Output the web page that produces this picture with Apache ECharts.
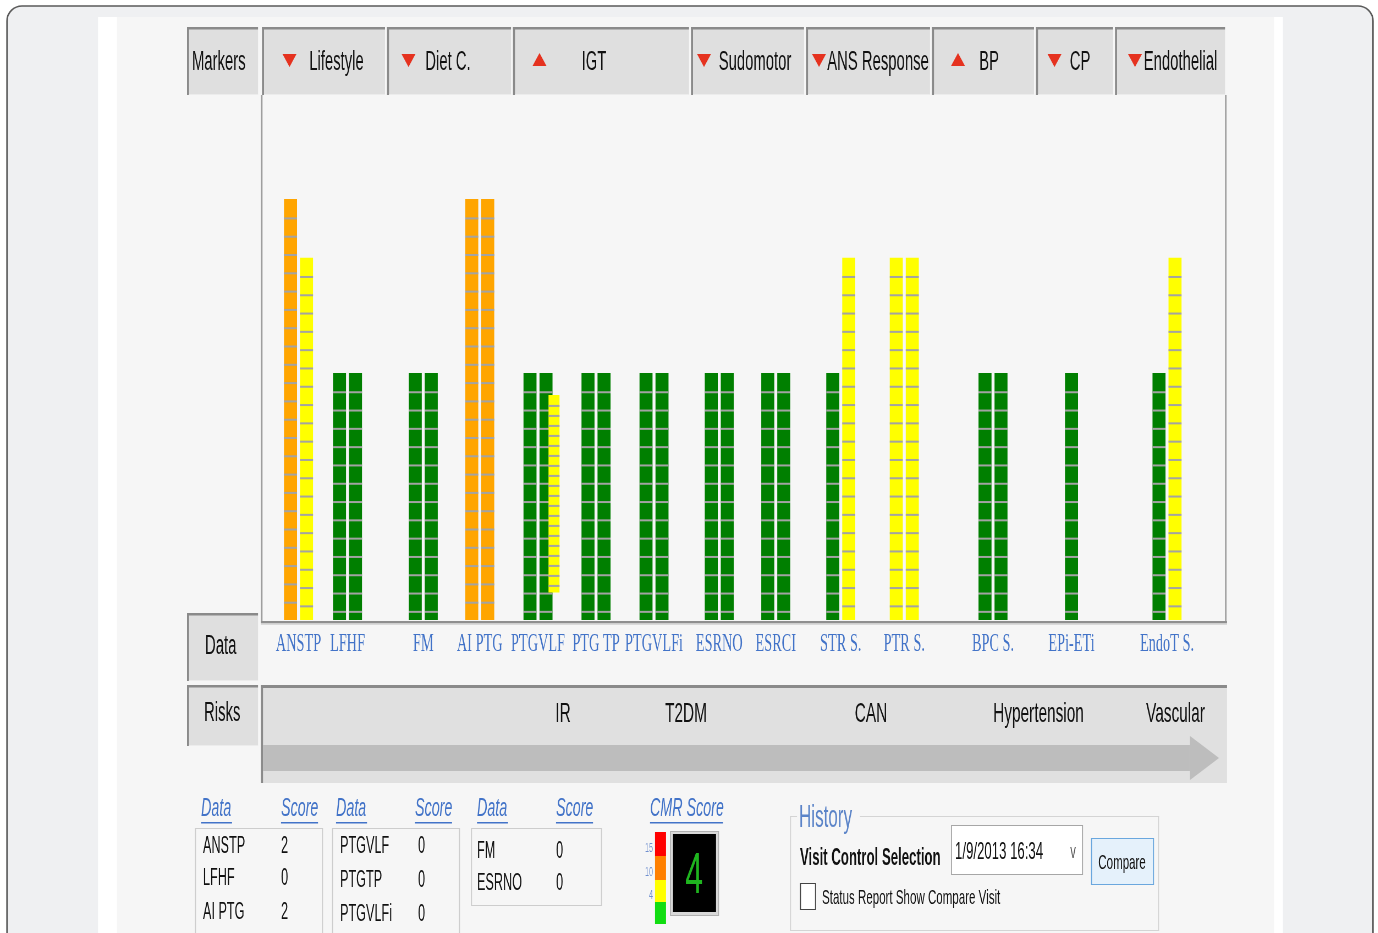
<!DOCTYPE html>
<html>
<head>
<meta charset="utf-8">
<script src="https://cdn.jsdelivr.net/npm/echarts@6/dist/echarts.min.js"></script>
<style>
  html, body { margin: 0; padding: 0; overflow: hidden; background: #fff; }
  #main { height: 933px; transform-origin: 0 0; }
</style>
</head>
<body>
<div id="main"></div>
<script>
// ---- data ----
var groupNames = ['Lifestyle', 'Diet C.', 'IGT', 'Sudomotor', 'ANS Response', 'BP', 'CP', 'Endothelial'];
var groupTrend = ['down', 'down', 'up', 'down', 'down', 'up', 'down', 'down'];

var markers = ['ANSTP', 'LFHF', 'FM', 'AI PTG', 'PTGVLF', 'PTG TP', 'PTGVLFi', 'ESRNO', 'ESRCI', 'STR S.', 'PTR S.', 'BPC S.', 'EPi-ETi', 'EndoT S.'];
var markerGroup = [0, 0, 1, 1, 2, 2, 2, 3, 3, 4, 4, 5, 6, 7];

// bar heights counted in blocks
var firstBar = [23, 13.5, 13.5, 23, 13.5, 13.5, 13.5, 13.5, 13.5, 13.5, 19.8, 13.5, 13.5, 13.5];
var firstLevel = ['high', 'ok', 'ok', 'high', 'ok', 'ok', 'ok', 'ok', 'ok', 'ok', 'mid', 'ok', 'ok', 'ok'];
var secondBar = [19.8, 13.5, 13.5, 23, 13.5, 13.5, 13.5, 13.5, 13.5, 19.8, 19.8, 13.5, null, 19.8];
var secondLevel = ['mid', 'ok', 'ok', 'high', 'ok', 'ok', 'ok', 'ok', 'ok', 'mid', 'mid', 'ok', null, 'mid'];

// the thin floating bar drawn over PTGVLF
var partialMarker = 'PTGVLF';
var partialRange = [1.5, 12.3];
var partialLevel = 'mid';

var risks = ['IR', 'T2DM', 'CAN', 'Hypertension', 'Vascular'];

var namesA = ['ANSTP', 'LFHF', 'AI PTG'];
var scoresA = [2, 0, 2];
var namesB = ['PTGVLF', 'PTGTP', 'PTGVLFi'];
var scoresB = [0, 0, 0];
var namesC = ['FM', 'ESRNO'];
var scoresC = [0, 0];

var cmrScore = 4;
var cmrTicks = [15, 10, 4];
var visitDate = '1/9/2013 16:34';

// ---- layout ----
// the screenshot is squeezed sideways, so the page is drawn wide and squeezed back
var S = 0.55;
var W = Math.round(1378 / S);
function X(x) { return x / S; }

var cellX = [[262, 385], [387, 511], [513, 689], [691, 804], [806, 930], [932, 1034], [1036, 1113], [1115, 1225]];
// how far each column's bar area sits in from its header cell (left, right)
var plotInset = [[12, 13], [8, 3], [-4, 6], [0, 0], [3, -6], [10, -10], [-3, 3], [-3, 3]];
var triX = [289.5, 408.5, 539.5, 704, 819, 958, 1054.5, 1135];
var headTextX = [336.5, 448, 594, 755, 878, 989, 1080, 1180.5];
var riskX = [563, 686, 871, 1038.5, 1175.5];

var PLOT_TOP = 97, BASE = 620, PITCH = 18.3;
var yMax = (BASE - PLOT_TOP) / PITCH;

var levelIndex = { ok: 0, mid: 1, high: 2 };
var levelColor = ['#007f00', '#ffff00', '#ffa500'];
var BLUE = '#4273c8';

var dom = document.getElementById('main');
dom.style.width = W + 'px';
dom.style.transform = 'scaleX(' + S + ')';
var myChart = echarts.init(dom);

// block bar: one coloured column cut by grey lines every block
function segBar(opt) {
    return function (params, api) {
        var cat = api.value(0);
        var lo = api.coord([cat, api.value(2)]);
        var hi = api.coord([cat, api.value(3)]);
        var unit = api.coord([cat, 0])[1] - api.coord([cat, 1])[1];
        var pitch = unit * (opt.pitch || 1);
        var w = X(opt.width);
        var cx = lo[0] + X(opt.offset != null ? opt.offset : api.value(1) * 8);
        var x = cx - w / 2;
        var kids = [{
            type: 'rect',
            shape: { x: x, y: hi[1], width: w, height: lo[1] - hi[1] },
            style: { fill: levelColor[api.value(4)] }
        }];
        for (var y = hi[1] + pitch + 1; y < lo[1] - 3; y += pitch) {
            kids.push({
                type: 'rect',
                shape: { x: x, y: y - 1, width: w, height: 2 },
                style: { fill: '#a3a3a3' }
            });
        }
        return { type: 'group', children: kids };
    };
}

var grids = [], xAxes = [], yAxes = [], series = [];
groupNames.forEach(function (g, gi) {
    var cats = [], data = [];
    markers.forEach(function (m, i) {
        if (markerGroup[i] !== gi) return;
        var k = cats.length;
        cats.push(m);
        var two = secondBar[i] != null;
        data.push([k, two ? -1 : 0, 0, firstBar[i], levelIndex[firstLevel[i]]]);
        if (two) data.push([k, 1, 0, secondBar[i], levelIndex[secondLevel[i]]]);
        if (m === partialMarker) {
            series.push({
                type: 'custom', xAxisIndex: gi, yAxisIndex: gi, z: 3, silent: true,
                encode: { x: 0, y: [2, 3] },
                renderItem: segBar({ width: 11, offset: 16, pitch: 10 / PITCH }),
                data: [[k, 0, partialRange[0], partialRange[1], levelIndex[partialLevel]]]
            });
        }
    });
    var l = cellX[gi][0] + plotInset[gi][0];
    var r = cellX[gi][1] - plotInset[gi][1];
    grids.push({ left: X(l), width: X(r - l), top: PLOT_TOP, height: BASE - PLOT_TOP });
    xAxes.push({
        type: 'category', gridIndex: gi, data: cats,
        axisLine: { show: false }, axisTick: { show: false }, splitLine: { show: false },
        axisLabel: { interval: 0, color: BLUE, fontFamily: 'Liberation Serif', fontSize: 26, margin: 11 }
    });
    yAxes.push({ type: 'value', gridIndex: gi, min: 0, max: yMax, show: false });
    series.push({
        type: 'custom', xAxisIndex: gi, yAxisIndex: gi, z: 2, silent: true,
        encode: { x: 0, y: [2, 3] },
        renderItem: segBar({ width: 13 }),
        data: data
    });
});

// ---- window chrome, all in screenshot pixels ----
function box(x, y, w, h, fill) {
    return { type: 'rect', shape: { x: x, y: y, width: w, height: h }, style: { fill: fill } };
}
function frame(x, y, w, h, stroke, fill) {
    return { type: 'rect', shape: { x: x + 0.5, y: y + 0.5, width: w, height: h }, style: { fill: fill || 'none', stroke: stroke, lineWidth: 1 } };
}
function txt(x, y, s, size, opt) {
    opt = opt || {};
    var al = opt.align || 'left';
    return {
        type: 'text', x: x, y: y, scaleX: S,
        style: {
            text: String(s), fontSize: size, fontFamily: opt.family || 'Liberation Sans',
            fontWeight: opt.bold ? 'bold' : 'normal', fontStyle: opt.italic ? 'italic' : 'normal',
            fill: opt.color || '#111', align: al, textAlign: al,
            verticalAlign: 'middle', textVerticalAlign: 'middle'
        }
    };
}
function cell(x0, y0, x1, y1) {
    return [
        box(x0, y0, x1 - x0, y1 - y0, '#dfdfdf'),
        box(x0, y0, x1 - x0, 2.5, '#8a8a8a'),
        box(x0, y0, 2, y1 - y0, '#8a8a8a'),
        box(x0 + 2, y1 - 1, x1 - x0 - 2, 1, '#ececec')
    ];
}
function link(x, y, s, w) {
    return [txt(x, y, s, 26, { italic: true, color: BLUE }), box(x, y + 13, w, 1.5, BLUE)];
}

var els = [];
els.push({ type: 'rect', shape: { x: 7, y: 6, width: 1366, height: 960, r: 15 }, style: { fill: '#eff0f2', stroke: '#5a5a5a', lineWidth: 1.5 } });
els.push(box(98, 17, 1185, 930, '#ffffff'));
els.push(box(117, 17, 1157, 930, '#f6f6f6'));

// header row
els = els.concat(cell(187, 27, 258, 95));
els.push(txt(192, 63, 'Markers', 27));
groupNames.forEach(function (g, gi) {
    els = els.concat(cell(cellX[gi][0], 27, cellX[gi][1], 95));
    var t = triX[gi];
    var pts = groupTrend[gi] === 'up'
        ? [[t - 7, 66], [t + 7, 66], [t, 53]]
        : [[t - 7, 54], [t + 7, 54], [t, 67]];
    els.push({ type: 'polygon', shape: { points: pts }, style: { fill: '#e5321f' } });
    els.push(txt(headTextX[gi], 63, g, 27, { align: 'center' }));
});

// plot frame
els.push(box(261, 95, 1.5, 528, '#9c9c9c'));
els.push(box(1225, 95, 1.5, 528, '#9c9c9c'));
els.push(box(261, 621, 966, 2.5, '#8f8f8f'));
els.push(box(261, 623.5, 966, 1.5, '#dadada'));

// data / risks row
els = els.concat(cell(187, 613, 258, 681));
els.push(txt(205, 647, 'Data', 27));
els = els.concat(cell(187, 685, 258, 746));
els.push(txt(204, 714, 'Risks', 27));
els.push(box(261, 685, 966, 98, '#e0e0e0'));
els.push(box(261, 685, 966, 3, '#8a8a8a'));
els.push(box(261, 685, 2, 98, '#8a8a8a'));
els.push(box(263, 745, 927, 26, '#bdbdbd'));
els.push({ type: 'polygon', shape: { points: [[1190, 736], [1219, 758], [1190, 780]] }, style: { fill: '#bdbdbd' } });
risks.forEach(function (r, i) { els.push(txt(riskX[i], 714, r, 28, { align: 'center' })); });

// score tables
function table(x0, x1, bottom, nameX, scoreX, rowY, names, scores) {
    var out = [frame(x0, 828, x1 - x0, bottom - 828, '#cdcdcd')];
    names.forEach(function (n, i) {
        out.push(txt(nameX, rowY[i], n, 23));
        out.push(txt(scoreX, rowY[i], scores[i], 23));
    });
    return out;
}
els = els.concat(link(201, 809, 'Data', 31), link(281, 809, 'Score', 37));
els = els.concat(link(336, 809, 'Data', 31), link(415, 809, 'Score', 37));
els = els.concat(link(477, 809, 'Data', 31), link(556, 809, 'Score', 37));
els = els.concat(table(195, 322, 945, 203, 281, [847, 879, 913], namesA, scoresA));
els = els.concat(table(332, 459, 945, 340, 418, [847, 881, 915], namesB, scoresB));
els = els.concat(table(471, 601, 905, 477, 556, [852, 884], namesC, scoresC));

// CMR score
els = els.concat(link(650, 809, 'CMR Score', 73));
els.push(box(655, 832, 11, 24, '#ff0000'));
els.push(box(655, 856, 11, 24, '#ff8000'));
els.push(box(655, 880, 11, 22, '#ffff00'));
els.push(box(655, 902, 11, 22, '#11dd11'));
[848, 872, 895].forEach(function (y, i) {
    els.push(txt(653, y, cmrTicks[i], 13, { align: 'right', color: '#6f8fcf' }));
});
els.push(frame(670, 831, 48, 84, '#b0b0b0', '#d8d8d8'));
els.push(box(673, 834, 43, 78, '#000000'));
els.push(txt(694, 877, cmrScore, 58, { align: 'center', color: '#1fb51f' }));

// history group
els.push(box(790, 816, 7, 1, '#d4d4d4'));
els.push(box(860, 816, 299, 1, '#d4d4d4'));
els.push(box(790, 816, 1, 115, '#d4d4d4'));
els.push(box(1158, 816, 1, 115, '#d4d4d4'));
els.push(box(790, 930, 369, 1, '#d4d4d4'));
els.push(txt(799, 818, 'History', 31, { color: '#5b84c8' }));
els.push(txt(800, 858, 'Visit Control Selection', 24, { bold: true }));
els.push(frame(951, 825, 131, 49, '#a6a6a6', '#ffffff'));
els.push(txt(955, 852, visitDate, 24));
els.push(txt(1073, 852, 'v', 20, { align: 'center', color: '#555' }));
els.push(frame(1091, 838, 62, 46, '#6aa7de', '#e5f1fb'));
els.push(txt(1122, 863, 'Compare', 21, { align: 'center' }));
els.push(frame(800, 883, 15, 26, '#444444', '#ffffff'));
els.push(txt(822, 898, 'Status Report Show Compare Visit', 21));

option = {
    backgroundColor: '#ffffff',
    animation: false,
    graphic: { elements: [{ type: 'group', scaleX: 1 / S, children: els }] },
    grid: grids,
    xAxis: xAxes,
    yAxis: yAxes,
    series: series
};

myChart.setOption(option);
</script>
</body>
</html>
